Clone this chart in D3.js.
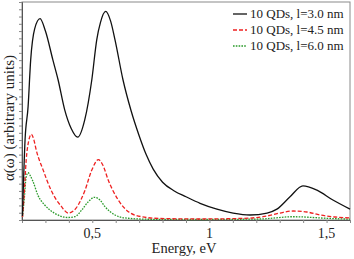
<!DOCTYPE html>
<html>
<head>
<meta charset="utf-8">
<script src="https://cdn.jsdelivr.net/npm/d3@7"></script>
<style>
  body { margin: 0; background: #fff; }
  text { font-family: "Liberation Serif", "Times New Roman", serif; fill: #222; }
</style>
</head>
<body>
<div id="chart"></div>
<script>
// absorption spectra (energy in eV, alpha in arbitrary units)
var e30 = [0.202,0.213,0.226,0.237,0.254,0.277,0.300,0.332,0.354,0.382,0.410,0.438,0.468,0.498,0.519,0.535,0.557,0.578,0.597,0.631,0.665,0.700,0.730,0.760,0.800,0.850,0.900,0.960,1.032,1.101,1.173,1.246,1.288,1.344,1.399,1.459,1.527,1.600];
var a30 = [0.55,11.0,15.6,22.0,26.3,27.7,26.0,22.0,19.3,15.2,12.6,11.4,13.8,19.3,24.8,27.2,28.7,27.4,24.8,19.3,15.1,11.6,9.0,7.0,5.2,4.0,3.2,2.3,1.5,0.96,0.69,0.96,1.5,3.2,4.7,4.1,2.75,1.5];

var e45 = [0.202,0.209,0.218,0.228,0.240,0.251,0.261,0.290,0.324,0.367,0.398,0.430,0.469,0.497,0.526,0.546,0.568,0.611,0.654,0.711,0.789,0.960,1.130,1.229,1.301,1.357,1.416,1.472,1.536,1.600];
var a45 = [0.41,3.4,8.3,10.8,11.8,11.0,9.6,6.9,4.1,1.9,0.95,1.6,4.1,6.8,8.3,7.5,5.5,2.75,1.14,0.45,0.21,0.14,0.21,0.45,0.96,1.24,1.1,0.69,0.41,0.28];

var e60 = [0.202,0.211,0.217,0.226,0.236,0.247,0.268,0.297,0.340,0.396,0.426,0.455,0.482,0.509,0.533,0.554,0.597,0.640,0.746,0.960,1.216,1.357,1.515,1.600];
var a60 = [0.41,3.4,5.8,6.5,6.05,5.3,3.4,2.06,0.92,0.34,0.45,1.38,2.48,3.12,2.75,1.83,0.69,0.28,0.10,0.07,0.14,0.45,0.21,0.11];

var seriesNames = ["10 QDs, l=3.0 nm", "10 QDs, l=4.5 nm", "10 QDs, l=6.0 nm"];
var seriesColors = ["#111111", "#ee2020", "#2a9a2a"];
var seriesDash = [null, "4,2", "1.6,1.2"];
var xTickLabels = [[0.5, "0,5"], [1, "1"], [1.5, "1,5"]];

var W = 354, H = 259;
var margin = {left: 22, right: 4, top: 2, bottom: 39};

var svg = d3.select("#chart")
  .append("svg")
  .attr("width", W)
  .attr("height", H);

var x = d3.scaleLinear().domain([0.2, 1.6]).range([margin.left, W - margin.right]);
var y = d3.scaleLinear().domain([0, 30]).range([H - margin.bottom, margin.top]);

// frame
svg.append("rect")
  .attr("x", x(0.2))
  .attr("y", y(30))
  .attr("width", x(1.6) - x(0.2))
  .attr("height", y(0) - y(30))
  .style("fill", "none")
  .style("stroke", "#8a8a8a")
  .style("stroke-width", 1);

// x axis: minor ticks every 0.1, labels only at 0.5, 1, 1.5
var xAxis = d3.axisBottom(x)
  .tickValues(d3.range(2, 17).map(function(d){ return d / 10; }))
  .tickSize(3)
  .tickFormat("");
var gx = svg.append("g")
  .attr("transform", "translate(0," + y(0) + ")")
  .call(xAxis);
gx.select(".domain").attr("stroke", "#555");
gx.selectAll(".tick line").attr("stroke", "#888");

svg.selectAll(".xlab")
  .data(xTickLabels)
  .enter()
  .append("text")
  .attr("x", function(d){ return x(d[0]); })
  .attr("y", 238)
  .attr("text-anchor", "middle")
  .style("font-size", "14px")
  .text(function(d){ return d[1]; });

// y axis: unlabeled minor ticks
var yAxis = d3.axisLeft(y)
  .tickValues(d3.range(0, 31))
  .tickSize(3)
  .tickFormat("");
var gy = svg.append("g")
  .attr("transform", "translate(" + x(0.2) + ",0)")
  .call(yAxis);
gy.select(".domain").attr("stroke", "#555");
gy.selectAll(".tick line").attr("stroke", "#888");

svg.append("text")
  .attr("x", 184)
  .attr("y", 253)
  .attr("text-anchor", "middle")
  .style("font-size", "14.5px")
  .text("Energy, eV");

svg.append("text")
  .attr("transform", "translate(14,118) rotate(-90)")
  .attr("text-anchor", "middle")
  .style("font-size", "15px")
  .text("α(ω) (arbitrary units)");

// curves
var line = d3.line()
  .x(function(d){ return x(d[0]); })
  .y(function(d){ return y(d[1]); })
  .curve(d3.curveMonotoneX);

var series = [d3.zip(e30, a30), d3.zip(e45, a45), d3.zip(e60, a60)];

// draw green first so black sits on top
[2, 1, 0].forEach(function(i){
  svg.append("path")
    .datum(series[i])
    .attr("d", line)
    .style("fill", "none")
    .style("stroke", seriesColors[i])
    .style("stroke-width", 1.3)
    .style("stroke-dasharray", seriesDash[i]);
});

// legend
var leg = svg.append("g");
seriesNames.forEach(function(name, i){
  var ly = 14 + i * 16;
  leg.append("line")
    .attr("x1", 233).attr("x2", 247)
    .attr("y1", ly).attr("y2", ly)
    .style("stroke", seriesColors[i])
    .style("stroke-width", 1.3)
    .style("stroke-dasharray", seriesDash[i]);
  leg.append("text")
    .attr("x", 250)
    .attr("y", ly)
    .attr("dy", "0.33em")
    .style("font-size", "13px")
    .text(name);
});
</script>
</body>
</html>
